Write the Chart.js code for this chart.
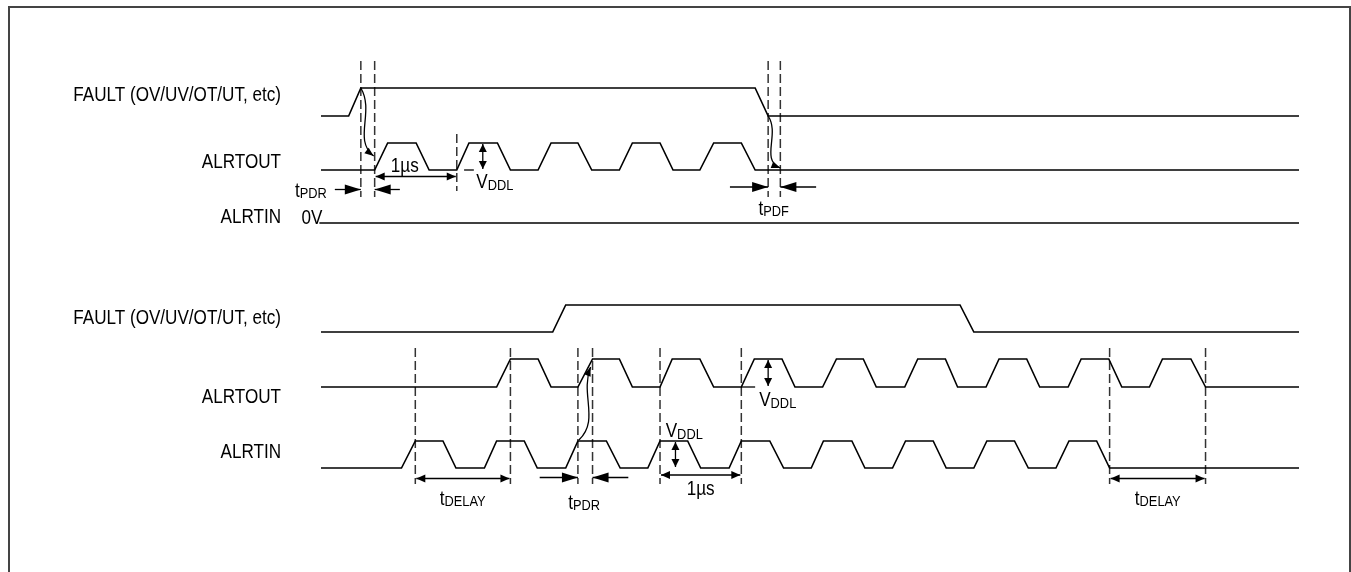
<!DOCTYPE html>
<html>
<head>
<meta charset="utf-8">
<script src="https://cdn.jsdelivr.net/npm/chart.js@4/dist/chart.umd.min.js"></script>
<style>
  html, body { margin: 0; padding: 0; background: #fff; }
  #wrap { width: 1351px; height: 572px; }
</style>
</head>
<body>
<div id="wrap"><canvas id="timing"></canvas></div>
<script>
// times in µs (one ALRTOUT pulse period = 1 µs), levels: 0 = low, 1 = high
const faultTopT   = [0, 0.34, 0.49, 5.34, 5.50, 12.03];
const faultTopLvl = [0, 0, 1, 1, 0, 0];

const outTopT   = [0, 0.66, 0.82, 1.17, 1.33, 1.67, 1.82, 2.17, 2.33, 2.67, 2.83, 3.16, 3.33,
                   3.67, 3.83, 4.17, 4.33, 4.66, 4.83, 5.17, 5.34, 12.03];
const outTopLvl = [0, 0, 1, 1, 0, 0, 1, 1, 0, 0, 1, 1, 0, 0, 1, 1, 0, 0, 1, 1, 0, 0];

const inTopT   = [-0.02, 12.03];
const inTopLvl = [0, 0];

const faultBotT   = [0, 2.85, 3.01, 7.86, 8.03, 12.03];
const faultBotLvl = [0, 0, 1, 1, 0, 0];

const outBotT   = [0, 2.16, 2.33, 2.67, 2.83, 3.16, 3.34, 3.67, 3.83, 4.17, 4.32, 4.66, 4.83,
                   5.17, 5.33, 5.67, 5.83, 6.17, 6.34, 6.67, 6.83, 7.18, 7.34, 7.68, 7.83,
                   8.18, 8.34, 8.68, 8.84, 9.19, 9.35, 9.69, 9.85, 10.19, 10.35, 10.70, 10.88, 12.03];
const outBotLvl = [0, 0, 1, 1, 0, 0, 1, 1, 0, 0, 1, 1, 0, 0, 1, 1, 0, 0, 1, 1, 0, 0, 1, 1, 0,
                   0, 1, 1, 0, 0, 1, 1, 0, 0, 1, 1, 0, 0];

const inBotT   = [0, 0.99, 1.16, 1.50, 1.66, 2.01, 2.16, 2.50, 2.66, 3.01, 3.16, 3.51, 3.68,
                  4.02, 4.17, 4.51, 4.67, 5.02, 5.17, 5.52, 5.69, 6.03, 6.18, 6.53, 6.69,
                  7.03, 7.19, 7.53, 7.69, 8.03, 8.19, 8.53, 8.70, 9.04, 9.20, 9.54, 9.70, 12.03];
const inBotLvl = [0, 0, 1, 1, 0, 0, 1, 1, 0, 0, 1, 1, 0, 0, 1, 1, 0, 0, 1, 1, 0, 0, 1, 1, 0,
                  0, 1, 1, 0, 0, 1, 1, 0, 0, 1, 1, 0, 0];

// marker times (dashed verticals)
const markTop1 = [0.49, 0.66];
const markTop2 = [1.67];
const markTop3 = [5.50, 5.65];
const markBot  = [1.16, 2.33, 3.16, 3.34, 4.17, 5.17, 9.70, 10.88];

const signalNames = ['FAULT (OV/UV/OT/UT, etc)', 'ALRTOUT', 'ALRTIN'];

// ---- layout ----
const PX_PER_US = 81.3, ORIGIN = 321;
const lanes = {
  faultTop: { base: 116, amp: 28 },
  outTop:   { base: 170, amp: 27 },
  inTop:    { base: 223, amp: 27 },
  faultBot: { base: 332, amp: 27 },
  outBot:   { base: 387, amp: 28 },
  inBot:    { base: 468, amp: 27 }
};
const SQ = 0.855;            // narrow face
const FONT = '"Liberation Sans", Arial, sans-serif';

const wave = (ts, lv, lane) => ts.map((t, i) => ({ x: t, y: lane.base - lv[i] * lane.amp }));

const waveSet = (ts, lv, lane) => ({
  data: wave(ts, lv, lane),
  showLine: true, pointRadius: 0, borderColor: '#000', borderWidth: 1.6,
  tension: 0, fill: false, borderJoinStyle: 'miter'
});

const dashSet = (t, y0, y1) => ({
  data: [{ x: t, y: y0 }, { x: t, y: y1 }],
  showLine: true, pointRadius: 0, borderColor: '#333', borderWidth: 1.5,
  borderDash: [9, 4], fill: false
});

const datasets = [
  waveSet(faultTopT, faultTopLvl, lanes.faultTop),
  waveSet(outTopT, outTopLvl, lanes.outTop),
  waveSet(inTopT, inTopLvl, lanes.inTop),
  waveSet(faultBotT, faultBotLvl, lanes.faultBot),
  waveSet(outBotT, outBotLvl, lanes.outBot),
  waveSet(inBotT, inBotLvl, lanes.inBot)
];
markTop1.forEach(t => datasets.push(dashSet(t, 61, 197)));
markTop2.forEach(t => datasets.push(dashSet(t, 134, 191)));
markTop3.forEach(t => datasets.push(dashSet(t, 61, 197)));
markBot.forEach(t => datasets.push(dashSet(t, 348, 484)));

// ---- drawing helpers ----
function text(ctx, s, x, y, size, align) {
  ctx.save();
  ctx.font = size + 'px ' + FONT;
  const w = ctx.measureText(s).width * SQ;
  const x0 = align === 'right' ? x - w : align === 'center' ? x - w / 2 : x;
  ctx.translate(x0, y);
  ctx.scale(SQ, 1);
  ctx.textAlign = 'left';
  ctx.textBaseline = 'alphabetic';
  ctx.fillStyle = '#000';
  ctx.fillText(s, 0, 0);
  ctx.restore();
  return w;
}

function subText(ctx, main, sub, x, y, drop) {
  const w = text(ctx, main, x, y, 20, 'left');
  text(ctx, sub, x + w, y + drop, 15, 'left');
}

function head(ctx, x, y, ang, len, hw) {
  ctx.beginPath();
  ctx.moveTo(x, y);
  ctx.lineTo(x - len * Math.cos(ang) + hw * Math.sin(ang), y - len * Math.sin(ang) - hw * Math.cos(ang));
  ctx.lineTo(x - len * Math.cos(ang) - hw * Math.sin(ang), y - len * Math.sin(ang) + hw * Math.cos(ang));
  ctx.closePath();
  ctx.fill();
}

function arrow(ctx, x0, y0, x1, y1, both, len, hw) {
  ctx.beginPath();
  ctx.moveTo(x0, y0);
  ctx.lineTo(x1, y1);
  ctx.stroke();
  const a = Math.atan2(y1 - y0, x1 - x0);
  head(ctx, x1, y1, a, len, hw);
  if (both) head(ctx, x0, y0, a + Math.PI, len, hw);
}

function curl(ctx, p0, c1, c2, p3) {
  ctx.beginPath();
  ctx.moveTo(p0[0], p0[1]);
  ctx.bezierCurveTo(c1[0], c1[1], c2[0], c2[1], p3[0], p3[1]);
  ctx.stroke();
  head(ctx, p3[0], p3[1], Math.atan2(p3[1] - c2[1], p3[0] - c2[0]), 9, 3.5);
}

const notes = {
  id: 'timingNotes',
  afterDatasetsDraw(chart) {
    const { ctx, scales: { x, y } } = chart;
    const X = t => x.getPixelForValue(t);
    const Y = v => y.getPixelForValue(v);
    const hi = l => Y(l.base - l.amp), lo = l => Y(l.base);
    ctx.save();
    ctx.strokeStyle = '#000';
    ctx.fillStyle = '#000';
    ctx.lineWidth = 1.3;

    // frame
    ctx.save();
    ctx.strokeStyle = '#444';
    ctx.lineWidth = 2;
    ctx.beginPath();
    ctx.moveTo(9, 600); ctx.lineTo(9, 7); ctx.lineTo(1350, 7); ctx.lineTo(1350, 600);
    ctx.stroke();
    ctx.restore();

    // signal names
    const nameY = [101, 168, 223, 324, 403, 458];
    nameY.forEach((yy, i) => text(ctx, signalNames[i % 3], 281, yy, 20, 'right'));
    text(ctx, '0V', X(-0.24), 223.5, 20, 'left');

    // --- top panel ---
    arrow(ctx, X(0.17), 189.5, X(0.49), 189.5, false, 16, 5);
    arrow(ctx, X(0.97), 189.5, X(0.66), 189.5, false, 16, 5);
    subText(ctx, 't', 'PDR', X(-0.32), 197, 1);

    arrow(ctx, X(0.66) + 1, 176.5, X(1.67) - 1, 176.5, true, 9, 4);
    text(ctx, '1µs', X(1.03), 172, 20, 'center');

    arrow(ctx, X(1.99), hi(lanes.outTop) + 1, X(1.99), lo(lanes.outTop) - 1, true, 8, 4);
    ctx.beginPath(); ctx.moveTo(X(1.76), lo(lanes.outTop)); ctx.lineTo(X(1.88), lo(lanes.outTop)); ctx.stroke();
    subText(ctx, 'V', 'DDL', X(1.91), 188, 2);

    arrow(ctx, X(5.03), 187, X(5.50), 187, false, 16, 5);
    arrow(ctx, X(6.09), 187, X(5.65), 187, false, 16, 5);
    subText(ctx, 't', 'PDF', X(5.38), 215, 1);

    curl(ctx, [X(0.49), hi(lanes.faultTop)], [X(0.49) + 14, 112], [X(0.49) - 8, 140], [X(0.66) - 1, 156]);
    curl(ctx, [X(5.50), lo(lanes.faultTop)], [X(5.50) + 12, 134], [X(5.50) - 8, 160], [X(5.65), 168]);

    // --- bottom panel ---
    arrow(ctx, X(1.16) + 1, 478.5, X(2.33) - 1, 478.5, true, 9, 4);
    subText(ctx, 't', 'DELAY', X(1.46), 505, 1);

    arrow(ctx, X(2.69), 477.5, X(3.16), 477.5, false, 16, 5);
    arrow(ctx, X(3.78), 477.5, X(3.34), 477.5, false, 16, 5);
    subText(ctx, 't', 'PDR', X(3.04), 509, 1);

    arrow(ctx, X(4.17) + 1, 475, X(5.17) - 1, 475, true, 9, 4);
    text(ctx, '1µs', X(4.67), 495, 20, 'center');

    arrow(ctx, X(9.70) + 1, 478.5, X(10.88) - 1, 478.5, true, 9, 4);
    subText(ctx, 't', 'DELAY', X(10.01), 505, 1);

    arrow(ctx, X(5.50), hi(lanes.outBot) + 1, X(5.50), lo(lanes.outBot) - 1, true, 8, 4);
    ctx.beginPath(); ctx.moveTo(X(5.17), lo(lanes.outBot)); ctx.lineTo(X(5.34), lo(lanes.outBot)); ctx.stroke();
    subText(ctx, 'V', 'DDL', X(5.39), 406, 2);

    arrow(ctx, X(4.36), hi(lanes.inBot) + 1, X(4.36), lo(lanes.inBot) - 1, true, 8, 4);
    subText(ctx, 'V', 'DDL', X(4.24), 437, 2);

    curl(ctx, [X(3.16) + 1, hi(lanes.inBot) - 1], [X(3.16) + 22, 420], [X(3.16) + 2, 395], [X(3.34) - 2, 367]);

    ctx.restore();
  }
};

new Chart(document.getElementById('timing'), {
  type: 'scatter',
  data: { datasets },
  options: {
    responsive: true,
    maintainAspectRatio: false,
    devicePixelRatio: 1,
    animation: false,
    layout: { padding: 0 },
    plugins: { legend: { display: false }, tooltip: { enabled: false } },
    scales: {
      x: { type: 'linear', display: false, min: -ORIGIN / PX_PER_US, max: (1351 - ORIGIN) / PX_PER_US },
      y: { type: 'linear', display: false, min: 0, max: 572, reverse: true }
    }
  },
  plugins: [notes]
});
</script>
</body>
</html>
